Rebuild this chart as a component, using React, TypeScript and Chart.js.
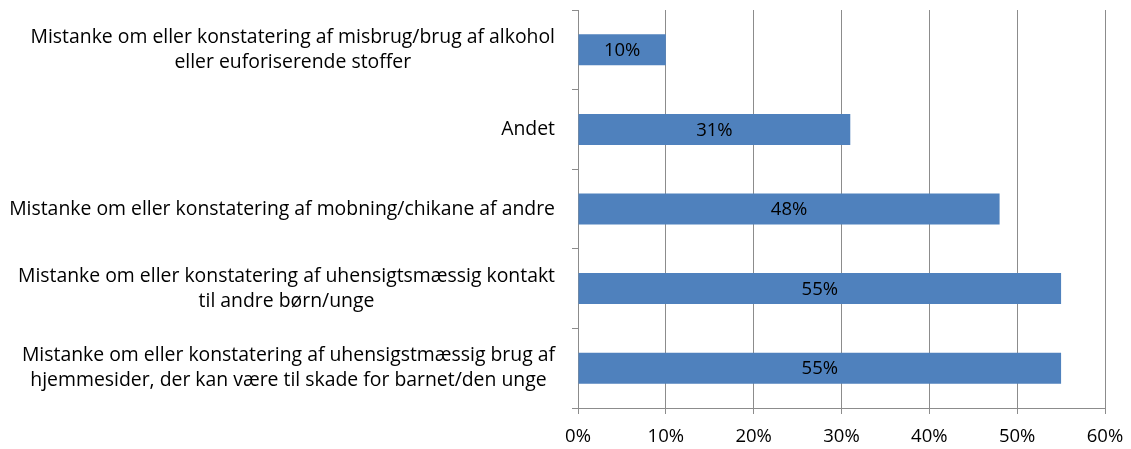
import React, { useEffect, useRef } from "react";
import { Chart, registerables } from "chart.js";

Chart.register(...registerables);

const categories: string[][] = [
  ["Mistanke om eller konstatering af misbrug/brug af alkohol", "eller euforiserende stoffer"],
  ["Andet"],
  ["Mistanke om eller konstatering af mobning/chikane af andre"],
  ["Mistanke om eller konstatering af uhensigtsmæssig kontakt", "til andre børn/unge"],
  ["Mistanke om eller konstatering af uhensigstmæssig brug af", "hjemmesider, der kan være til skade for barnet/den unge"],
];
const values: number[] = [10, 31, 48, 55, 55];
const xTicks: number[] = [0, 10, 20, 30, 40, 50, 60];

const FONT_FAMILY = "'Open Sans', 'Liberation Sans', sans-serif";
const LABEL_SIZE = 19.4;
const TICK_SIZE = 18.5;
const LINE_GAP = 25;
const GRID = "#8c8c8c";

const labelPlugin = {
  id: "customLabels",
  afterDraw(chart: any) {
    const ctx = chart.ctx;
    const yScale = chart.scales.y;
    ctx.save();
    ctx.fillStyle = "#000";
    ctx.textBaseline = "middle";
    ctx.textAlign = "center";
    ctx.font = `${LABEL_SIZE}px ${FONT_FAMILY}`;
    const rightEdge = chart.chartArea.left - 23;
    categories.forEach((lines, i) => {
      const cy = yScale.getPixelForTick(i);
      const w = Math.max(...lines.map((l) => ctx.measureText(l).width));
      const cx = rightEdge - w / 2;
      const startY = cy - ((lines.length - 1) * LINE_GAP) / 2;
      lines.forEach((l, j) => ctx.fillText(l, cx, startY + j * LINE_GAP));
    });
    ctx.font = `${TICK_SIZE}px ${FONT_FAMILY}`;
    const meta = chart.getDatasetMeta(0);
    meta.data.forEach((bar: any, i: number) => {
      const { x, y, base } = bar.getProps(["x", "y", "base"], true);
      ctx.fillText(`${values[i]}%`, (x + base) / 2, y + 1);
    });
    ctx.restore();
  },
};

export default function App() {
  const ref = useRef<HTMLCanvasElement>(null);
  useEffect(() => {
    document.body.style.margin = "0";
    const chart = new Chart(ref.current!, {
      type: "bar",
      data: {
        labels: categories.map((c) => c.join(" ")),
        datasets: [
          {
            data: values,
            backgroundColor: "#4F81BD",
            borderWidth: 0,
            categoryPercentage: 1,
            barPercentage: 0.39,
          },
        ],
      },
      options: {
        indexAxis: "y",
        animation: false,
        responsive: false,
        devicePixelRatio: 1,
        layout: { padding: { top: 10, right: 26, bottom: 0, left: 0 } },
        plugins: { legend: { display: false }, tooltip: { enabled: false } },
        scales: {
          x: {
            min: 0,
            max: 60,
            afterBuildTicks: (scale: any) => {
              scale.ticks = xTicks.map((v) => ({ value: v }));
            },
            afterFit: (scale: any) => {
              scale.height = 41;
              scale.paddingLeft = 0;
              scale.paddingRight = 0;
            },
            ticks: {
              callback: (v: any) => `${v}%`,
              color: "#000",
              font: { family: FONT_FAMILY, size: TICK_SIZE },
              padding: 12,
              maxRotation: 0,
            },
            grid: { color: GRID, lineWidth: 1, tickLength: 6, drawTicks: true },
            border: { color: GRID, width: 1 },
          },
          y: {
            offset: true,
            ticks: { display: false },
            afterFit: (scale: any) => {
              scale.width = 578;
            },
            grid: {
              offset: true,
              drawOnChartArea: false,
              drawTicks: true,
              tickLength: 6,
              color: GRID,
            },
            border: { color: GRID, width: 1 },
          },
        },
      },
      plugins: [labelPlugin],
    });
    return () => chart.destroy();
  }, []);
  return <canvas ref={ref} width={1131} height={449} />;
}
